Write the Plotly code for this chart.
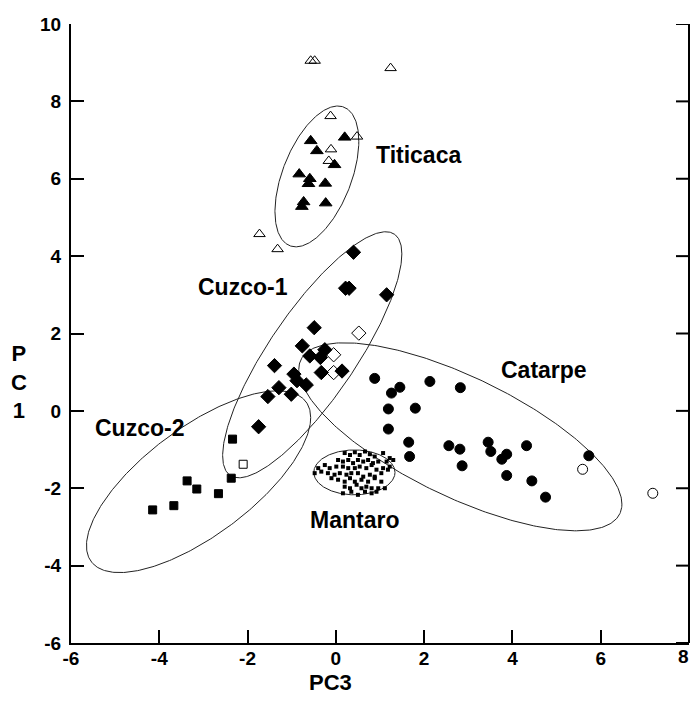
import numpy as np
import plotly.graph_objects as go

# ---------------- data (PC3 = x, PC1 = y) ----------------
titicaca_x = [0.20, -0.57, -0.43, -0.03, -0.83, -0.59, -0.62, -0.24, -0.73, -0.77, -0.23]
titicaca_y = [7.07, 6.98, 6.72, 6.36, 6.12, 6.00, 5.87, 5.88, 5.40, 5.28, 5.37]
titicaca_open_x = [-0.57, -0.48, 1.24, -0.12, 0.48, -0.11, -0.16, -1.73, -1.32]
titicaca_open_y = [9.05, 9.05, 8.86, 7.62, 7.09, 6.76, 6.46, 4.57, 4.18]

cuzco1_x = [0.40, 0.22, 0.30, 1.15, -0.49, -0.76, -0.25, -0.59, -0.35, -1.39,
            -0.95, -0.33, 0.14, -0.88, -0.67, -1.29, -1.01, -1.54, -1.75]
cuzco1_y = [4.10, 3.17, 3.17, 3.00, 2.15, 1.68, 1.58, 1.42, 1.38, 1.17,
            0.95, 0.99, 1.03, 0.78, 0.67, 0.60, 0.43, 0.37, -0.41]
cuzco1_open_x = [0.52, -0.05, -0.05]
cuzco1_open_y = [2.01, 1.45, 0.99]

catarpe_x = [0.88, 1.45, 1.26, 2.13, 2.82, 1.19, 1.80, 1.19, 1.65, 1.67, 2.56,
             2.81, 2.86, 3.45, 3.51, 3.76, 3.87, 4.32, 3.87, 4.44, 4.75, 5.73]
catarpe_y = [0.84, 0.61, 0.46, 0.76, 0.60, 0.05, 0.07, -0.47, -0.81, -1.18, -0.90,
             -0.99, -1.42, -0.81, -1.05, -1.25, -1.12, -0.90, -1.67, -1.81, -2.23, -1.16]
catarpe_open_x = [5.59, 7.18]
catarpe_open_y = [-1.51, -2.13]

cuzco2_x = [-2.34, -2.37, -3.37, -3.15, -2.66, -3.67, -4.15]
cuzco2_y = [-0.73, -1.74, -1.81, -2.02, -2.14, -2.45, -2.56]
cuzco2_open_x = [-2.10]
cuzco2_open_y = [-1.38]

mantaro_x = [0.20, 0.32, 0.43, 0.54, 0.66, 0.77, 0.88, 1.07, 1.22,
             0.05, 0.16, 0.28, 0.39, 0.50, 0.62, 0.73, 0.84, 0.96, 1.15, 1.30,
             -0.40, -0.25, -0.14, 0.01, 0.16, 0.28, 0.43, 0.54, 0.69, 0.81, 0.92, 1.07, 1.22,
             -0.48, -0.33, -0.18, -0.03, 0.09, 0.24, 0.35, 0.50, 0.62, 0.77, 0.88, 1.03, 1.18,
             -0.10, 0.05, 0.20, 0.32, 0.43, 0.58, 0.73, 0.88, 1.03,
             0.20, 0.32, 0.47, 0.58, 0.69, 0.81, 0.96, 1.11,
             0.16, 0.35, 0.50, 0.66, 0.81, 0.92]
mantaro_y = [-1.09, -1.14, -1.07, -1.14, -1.05, -1.12, -1.18, -1.09, -1.22,
             -1.27, -1.31, -1.27, -1.35, -1.27, -1.31, -1.27, -1.35, -1.31, -1.31, -1.27,
             -1.48, -1.40, -1.48, -1.44, -1.44, -1.48, -1.48, -1.44, -1.48, -1.40, -1.52, -1.48, -1.44,
             -1.61, -1.57, -1.61, -1.65, -1.61, -1.65, -1.61, -1.61, -1.70, -1.65, -1.70, -1.61, -1.52,
             -1.74, -1.78, -1.83, -1.74, -1.83, -1.78, -1.83, -1.74, -1.83,
             -1.96, -2.00, -1.91, -2.00, -1.96, -2.00, -2.00, -2.00,
             -2.13, -2.09, -2.17, -2.09, -2.13, -2.09]

# group ellipses: centre, half-width, half-height, cos(phase) of the tilt
ell_cx = [-0.43, -0.535, -3.11, 2.82, 0.42]
ell_cy = [6.06, 1.45, -1.83, -0.67, -1.59]
ell_hx = [0.95, 2.03, 2.54, 3.66, 0.92]
ell_hy = [1.82, 3.18, 2.35, 2.43, 0.58]
ell_cos = [0.50, 0.82, 0.705, -0.716, 0.0]

label_text = ["Titicaca", "Cuzco-1", "Catarpe", "Cuzco-2", "Mantaro"]
label_x = [1.88, -2.10, 4.72, -4.45, 0.43]
label_y = [6.61, 3.21, 1.06, -0.45, -2.82]

x_ticks = [-6, -4, -2, 0, 2, 4, 6, 8]
y_ticks = [-6, -4, -2, 0, 2, 4, 6, 8, 10]
x_range = [-6, 8]
y_range = [-6, 10]

FONT = "Arial, Liberation Sans, Helvetica, sans-serif"

# page geometry (page body margin removed, figure fills the window)
W, H = 691, 709
PLOT_L, PLOT_R, PLOT_T, PLOT_B = 71, 689, 24, 643
TICKLEN = 13


def px(xp):
    return (xp - PLOT_L) / (PLOT_R - PLOT_L)


def py(yp):
    return (PLOT_B - yp) / (PLOT_B - PLOT_T)


fig = go.Figure()

# ellipses
t = np.linspace(0, 2 * np.pi, 361)
for cx, cy, hx, hy, c in zip(ell_cx, ell_cy, ell_hx, ell_hy, ell_cos):
    phi = np.arccos(c)
    fig.add_trace(go.Scatter(x=cx + hx * np.cos(t), y=cy + hy * np.cos(t - phi),
                             mode="lines", line=dict(color="#222", width=1),
                             showlegend=False, hoverinfo="skip"))


def add(x, y, symbol, size, lw=1):
    fig.add_trace(go.Scatter(x=x, y=y, mode="markers",
                             marker=dict(symbol=symbol, size=size, color="black",
                                         line=dict(color="black", width=lw)),
                             showlegend=False, hoverinfo="skip"))


add(titicaca_x, titicaca_y, "triangle-up", 11)
add(titicaca_open_x, titicaca_open_y, "triangle-up-open", 10)
add(cuzco1_x, cuzco1_y, "diamond", 11)
add(cuzco1_open_x, cuzco1_open_y, "diamond-open", 11)
add(catarpe_x, catarpe_y, "circle", 10)
add(catarpe_open_x, catarpe_open_y, "circle-open", 10)
add(cuzco2_x, cuzco2_y, "square", 8)
add(cuzco2_open_x, cuzco2_open_y, "square-open", 8)
add(mantaro_x, mantaro_y, "square", 4, lw=0)

for txt, lx, ly in zip(label_text, label_x, label_y):
    fig.add_annotation(x=lx, y=ly, text=txt, showarrow=False,
                       font=dict(family=FONT, size=23, color="black", weight="bold"))

fig.add_annotation(xref="paper", yref="paper", x=px(330), y=py(682),
                   text="PC3", showarrow=False, xanchor="center", yanchor="middle",
                   font=dict(family=FONT, size=22, color="black", weight="bold"))
fig.add_annotation(xref="paper", yref="paper", x=px(19), y=py(382),
                   text="P<br>C<br>1", showarrow=False, xanchor="center", yanchor="middle",
                   font=dict(family=FONT, size=22, color="black", weight="bold"))
# the last x tick label sits at the page edge
fig.add_annotation(xref="paper", yref="paper", x=px(691), y=py(656),
                   text=str(x_ticks[-1]), showarrow=False, xanchor="right", yanchor="middle",
                   font=dict(family=FONT, size=19, color="black", weight="bold"))

# right-hand frame line with inward ticks
fig.add_shape(type="line", xref="paper", yref="paper", x0=1, x1=1, y0=0, y1=1,
              line=dict(color="black", width=2), layer="above")
for yt in y_ticks:
    fig.add_shape(type="line", xref="paper", yref="y", x0=1, x1=1 - TICKLEN / (PLOT_R - PLOT_L),
                  y0=yt, y1=yt, line=dict(color="black", width=2), layer="above")

axis_common = dict(showgrid=False, zeroline=False, showline=True, linecolor="black",
                   linewidth=2, ticks="inside", ticklen=TICKLEN, tickwidth=2, tickcolor="black",
                   tickfont=dict(family=FONT, size=19, color="black", weight="bold"))

fig.update_layout(
    xaxis=dict(range=x_range, tickvals=x_ticks[:-1], ticktext=[str(v) for v in x_ticks[:-1]],
               ticklabelstandoff=-3, **axis_common),
    yaxis=dict(range=y_range, tickvals=y_ticks, ticktext=[str(v) for v in y_ticks],
               ticklabelstandoff=4, **axis_common),
    width=W, height=H,
    margin=dict(l=PLOT_L, r=W - PLOT_R, t=PLOT_T, b=H - PLOT_B),
    plot_bgcolor="white", paper_bgcolor="white", showlegend=False)

fig.write_html("out.html", config={"displayModeBar": False},
               post_script="document.body.style.margin='0px';document.body.style.overflow='hidden';")
